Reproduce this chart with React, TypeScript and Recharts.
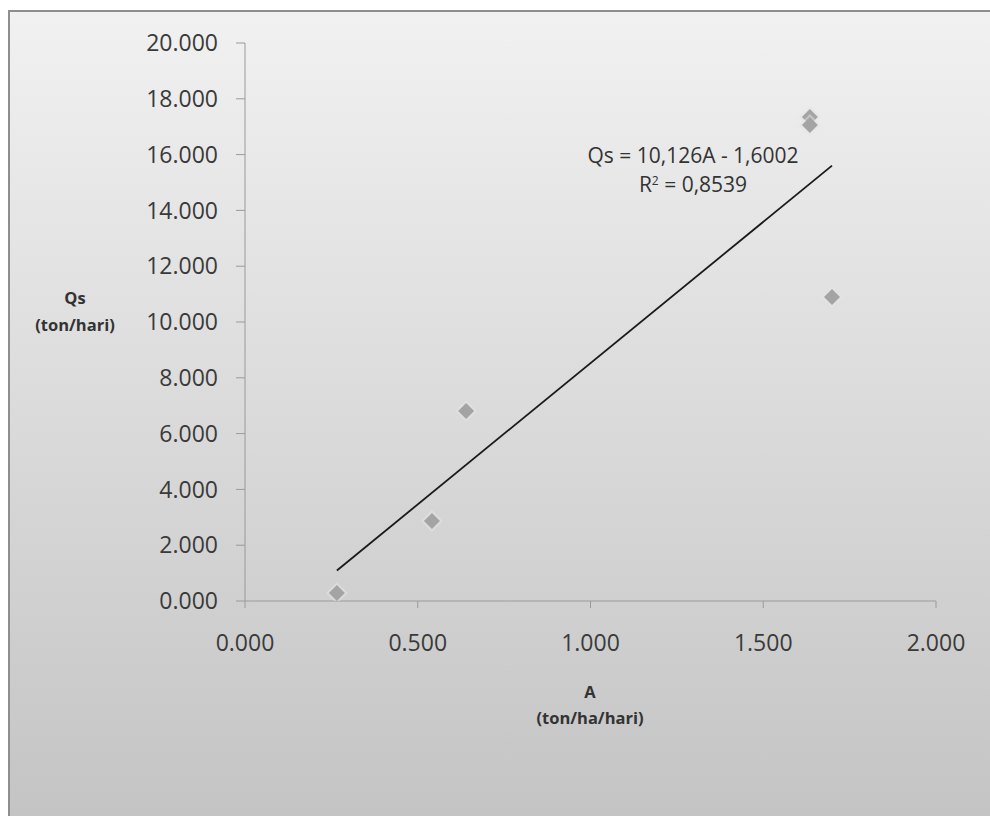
import { ScatterChart, Scatter, XAxis, YAxis } from 'recharts';

// observed points, A (ton/ha/hari) vs Qs (ton/hari)
const aValues = [0.266, 0.541, 0.640, 1.635, 1.635, 1.699];
const qsValues = [0.29, 2.87, 6.81, 17.35, 17.06, 10.9];

// linear trendline shown in the chart
const trendSlope = 10.126;
const trendIntercept = -1.6002;

const xTicks = [0, 0.5, 1, 1.5, 2];
const yTicks = [0, 2, 4, 6, 8, 10, 12, 14, 16, 18, 20];

const points = aValues.map((a, i) => ({ a, qs: qsValues[i] }));
const xMin = Math.min(...aValues);
const xMax = Math.max(...aValues);
const trend = [xMin, xMax].map(a => ({ a, qs: trendSlope * a + trendIntercept }));

const fontFamily = '"Open Sans", "Liberation Sans", sans-serif';
const tickStyle = { fontSize: 23, fill: '#3a3a3a', fontFamily };

function Diamond(props: any) {
  const { cx, cy } = props;
  if (cx == null || cy == null) return null;
  const r = 8;
  const h = 11;
  return (
    <g>
      <polygon
        points={`${cx},${cy - h} ${cx + h},${cy} ${cx},${cy + h} ${cx - h},${cy}`}
        fill="#e6e6e6"
        opacity={0.5}
      />
      <polygon
        points={`${cx},${cy - r} ${cx + r},${cy} ${cx},${cy + r} ${cx - r},${cy}`}
        fill="#a4a4a4"
      />
    </g>
  );
}

const labelStyle: React.CSSProperties = {
  position: 'absolute',
  fontFamily,
  fontWeight: 700,
  fontSize: 16.5,
  color: '#333',
  textAlign: 'center',
  lineHeight: '20px',
  whiteSpace: 'nowrap',
};

const eqStyle: React.CSSProperties = {
  position: 'absolute',
  left: 543,
  width: 300,
  textAlign: 'center',
  fontFamily,
  fontSize: 21,
  color: '#333',
  lineHeight: '21px',
  whiteSpace: 'nowrap',
};

export default function App() {
  return (
    <div style={{ position: 'fixed', left: 0, top: 0, width: 990, height: 816, overflow: 'hidden', background: '#fff' }}>
      <div
        style={{
          position: 'absolute', left: 8, top: 10, width: 1000, height: 820,
          borderTop: '2px solid #8e8e8e', borderLeft: '2px solid #8e8e8e',
          background: 'linear-gradient(#f1f1f1, #c3c3c3)',
        }}
      />
      <div style={{ position: 'absolute', left: 0, top: 0 }}>
        <ScatterChart width={990} height={816} margin={{ top: 43, right: 54, bottom: 155, left: 0 }}>
          <XAxis
            type="number"
            dataKey="a"
            domain={[0, 2]}
            ticks={xTicks}
            tickFormatter={(v: number) => v.toFixed(3)}
            tick={tickStyle}
            tickSize={7}
            tickMargin={27}
            height={60}
            stroke="#9a9a9a"
            allowDataOverflow
          />
          <YAxis
            type="number"
            dataKey="qs"
            domain={[0, 20]}
            ticks={yTicks}
            tickFormatter={(v: number) => v.toFixed(3)}
            tick={tickStyle}
            tickSize={9}
            tickMargin={18}
            width={245}
            stroke="#9a9a9a"
            allowDataOverflow
          />
          <Scatter data={trend} line={{ stroke: '#1a1a1a', strokeWidth: 1.8 }} shape={() => null} isAnimationActive={false} />
          <Scatter data={points} shape={Diamond} isAnimationActive={false} />
        </ScatterChart>
      </div>
      <div style={{ ...labelStyle, left: 25, top: 288 }}>
        <div style={{ width: 100 }}>Qs</div>
      </div>
      <div style={{ ...labelStyle, left: 25, top: 315 }}>
        <div style={{ width: 100 }}>(ton/hari)</div>
      </div>
      <div style={{ ...labelStyle, left: 490, top: 682, width: 200 }}>A</div>
      <div style={{ ...labelStyle, left: 490, top: 708, width: 200 }}>(ton/ha/hari)</div>
      <div style={{ ...eqStyle, top: 145 }}>Qs = 10,126A - 1,6002</div>
      <div style={{ ...eqStyle, top: 174 }}>
        R<span style={{ fontSize: 12, position: 'relative', top: -7 }}>2</span> = 0,8539
      </div>
    </div>
  );
}
